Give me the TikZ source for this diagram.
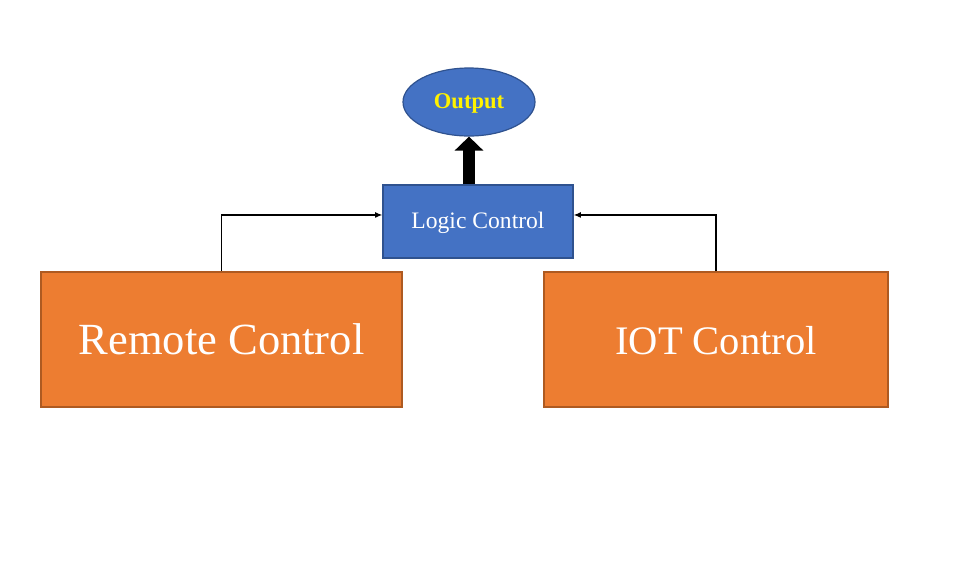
\documentclass[tikz,border=0pt]{standalone}
\usepackage{fontspec}
\setmainfont{Liberation Serif}
\usetikzlibrary{arrows.meta,shapes.geometric}

\definecolor{boxorange}{RGB}{237,125,49}
\definecolor{edgeorange}{RGB}{174,90,33}
\definecolor{boxblue}{RGB}{68,114,196}
\definecolor{edgeblue}{RGB}{47,82,143}

\begin{document}
\begin{tikzpicture}[x=0.75pt,y=-0.75pt,
    bigbox/.style={draw=edgeorange,fill=boxorange,line width=0.9pt,text=white,minimum height=101.25pt,inner sep=0pt,text depth=0pt},
    bluebox/.style={draw=edgeblue,fill=boxblue,line width=0.9pt,text=white,inner sep=0pt,text depth=0pt},
    feed/.style={line width=1pt,-{Latex[length=5.5pt,width=4.5pt]}}]
    \useasboundingbox (0,0) rectangle (973,565);

    %blocks
    \node[bigbox,minimum width=270.75pt,text height=23.2pt,font=\fontsize{33.4}{40}\selectfont] (remote) at (221.5,339.5) {Remote Control};
    \node[bigbox,minimum width=258pt,text height=21.8pt,font=\fontsize{30.4}{36}\selectfont] (iot) at (716,339.5) {IOT Control};
    \node[bluebox,minimum width=142.5pt,minimum height=54.75pt,text height=9.8pt,font=\fontsize{17.7}{21}\selectfont] (logic) at (478,221.5) {Logic Control};
    \node[bluebox,ellipse,minimum width=99pt,minimum height=51pt,text height=9.5pt,text=yellow,font=\fontsize{16.9}{20}\selectfont\bfseries] (output) at (469,102) {Output};

    %connectors
    \draw[feed] (remote.north) |- ([yshift=4.9pt]logic.west);
    \draw[feed] (iot.north) |- ([yshift=4.9pt]logic.east);
    \draw[line width=9pt,-{Triangle[width=21pt,length=10.5pt]}] (output.south |- logic.north) -- (output.south);
\end{tikzpicture}
\end{document}
